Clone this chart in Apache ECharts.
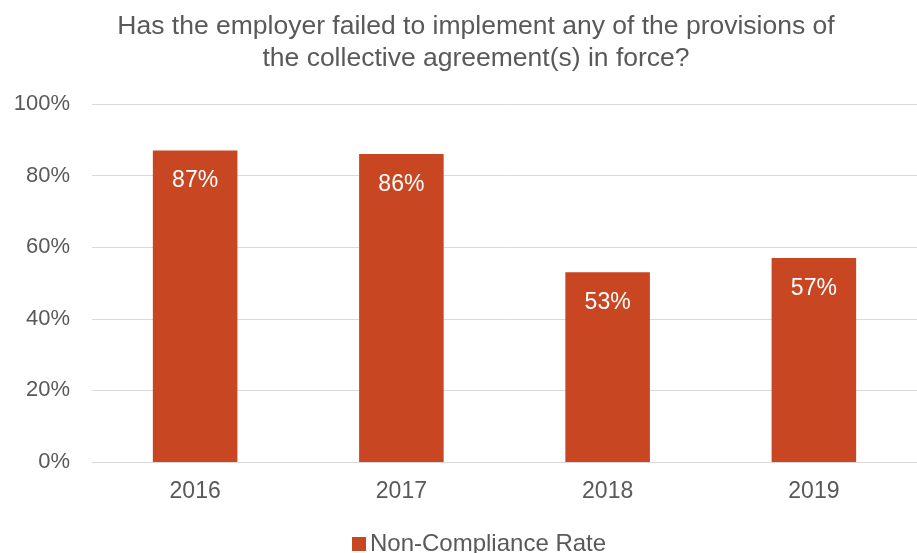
<!DOCTYPE html>
<html>
<head>
<meta charset="utf-8">
<script src="https://cdn.jsdelivr.net/npm/echarts@6/dist/echarts.min.js"></script>
<style>
  html, body { margin: 0; padding: 0; background: #ffffff; }
  #chart { width: 917px; height: 553px; }
</style>
</head>
<body>
<div id="chart"></div>
<script>
// Survey results by year
const years = ['2016', '2017', '2018', '2019'];
const nonComplianceRate = [87, 86, 53, 57];
const seriesName = 'Non-Compliance Rate';
const titleText = 'Has the employer failed to implement any of the provisions of\nthe collective agreement(s) in force?';

const textGray = '#595959';
const barColor = '#C84622';
const fontFamily = '"Liberation Sans", Arial, sans-serif';

const chart = echarts.init(document.getElementById('chart'));
chart.setOption({
  animation: false,
  textStyle: { fontFamily: fontFamily },
  title: {
    text: titleText,
    left: 471,
    textAlign: 'center',
    top: 6,
    textStyle: {
      color: textGray,
      fontSize: 26.5,
      fontWeight: 'normal',
      lineHeight: 32,
      fontFamily: fontFamily
    }
  },
  legend: {
    data: [seriesName],
    top: 527,
    left: 347,
    icon: 'rect',
    itemWidth: 14,
    itemHeight: 14,
    itemGap: 4,
    textStyle: { color: textGray, fontSize: 24, fontFamily: fontFamily, padding: [0, 0, 0, -1] }
  },
  grid: { left: 92, right: 0, top: 104, bottom: 91 },
  xAxis: {
    type: 'category',
    data: years,
    axisLine: { lineStyle: { color: '#D9D9D9', width: 1 } },
    axisTick: { show: false },
    axisLabel: { color: textGray, fontSize: 23, margin: 18, fontFamily: fontFamily }
  },
  yAxis: {
    type: 'value',
    min: 0,
    max: 100,
    interval: 20,
    axisLine: { show: false },
    axisTick: { show: false },
    splitLine: { lineStyle: { color: '#D9D9D9', width: 1 } },
    axisLabel: {
      color: textGray,
      fontSize: 22,
      margin: 22,
      fontFamily: fontFamily,
      formatter: '{value}%'
    }
  },
  series: [{
    name: seriesName,
    type: 'bar',
    data: nonComplianceRate,
    barWidth: '41%',
    itemStyle: { color: barColor },
    label: {
      show: true,
      position: 'insideTop',
      distance: 19,
      color: '#ffffff',
      fontSize: 23,
      fontFamily: fontFamily,
      formatter: '{c}%'
    }
  }]
});
</script>
</body>
</html>
